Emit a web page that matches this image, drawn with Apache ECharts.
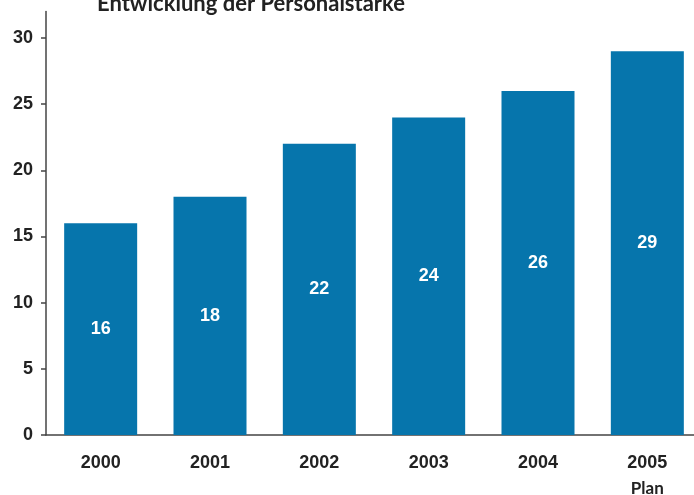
<!DOCTYPE html>
<html>
<head>
<meta charset="utf-8">
<script src="https://cdn.jsdelivr.net/npm/echarts@6/dist/echarts.min.js"></script>
<style>
  html, body { margin: 0; padding: 0; background: #fff; }
  #chart { width: 694px; height: 495px; }
</style>
</head>
<body>
<div id="chart"></div>
<script>
// Headcount per year (2005 is the planned figure)
const years = ['2000', '2001', '2002', '2003', '2004', '2005'];
const subLabels = ['', '', '', '', '', 'Plan'];
const staff = [16, 18, 22, 24, 26, 29];
const yTicks = [0, 5, 10, 15, 20, 25, 30];

const chart = echarts.init(document.getElementById('chart'), null, { renderer: 'canvas' });

chart.setOption({
  animation: false,
  backgroundColor: '#ffffff',
  title: {
    text: 'Entwicklung der Personalstärke',
    left: 92,
    top: -12,
    textStyle: {
      fontFamily: 'Lato',
      fontWeight: 'bold',
      fontSize: 22,
      color: '#222'
    }
  },
  // plot area runs a little past the right edge of the canvas
  grid: {
    left: 46, width: 656, top: 11.5, bottom: 60,
    containLabel: false,
    outerBoundsMode: 'none'
  },
  xAxis: {
    type: 'category',
    data: years,
    axisLine: { show: true, lineStyle: { color: '#444', width: 1.5 } },
    axisTick: { show: false },
    axisLabel: {
      margin: 17,
      formatter: function (value, idx) {
        const sub = subLabels[idx];
        return sub ? '{y|' + value + '}\n{p|' + sub + '}' : '{y|' + value + '}';
      },
      rich: {
        y: { fontFamily: 'Liberation Sans', fontWeight: 'bold', fontSize: 18, color: '#222', lineHeight: 22 },
        p: { fontFamily: 'Lato', fontWeight: 'bold', fontSize: 17, color: '#222', lineHeight: 26, padding: [3, 0, 0, 0] }
      }
    }
  },
  yAxis: {
    type: 'value',
    min: 0,
    max: 32,
    interval: 5,
    splitLine: { show: false },
    axisLine: { show: true, lineStyle: { color: '#444', width: 1.5 } },
    axisTick: { show: true, inside: false, length: 5, customValues: yTicks, lineStyle: { color: '#444', width: 1.5 } },
    axisLabel: {
      customValues: yTicks,
      margin: 13,
      fontFamily: 'Liberation Sans',
      fontWeight: 'bold',
      fontSize: 18,
      color: '#222'
    }
  },
  series: [{
    type: 'bar',
    data: staff,
    barWidth: 73,
    itemStyle: { color: '#0675ac' },
    label: {
      show: true,
      position: 'inside',
      fontFamily: 'Liberation Sans',
      fontWeight: 'bold',
      fontSize: 18,
      color: '#ffffff'
    }
  }]
});
</script>
</body>
</html>
